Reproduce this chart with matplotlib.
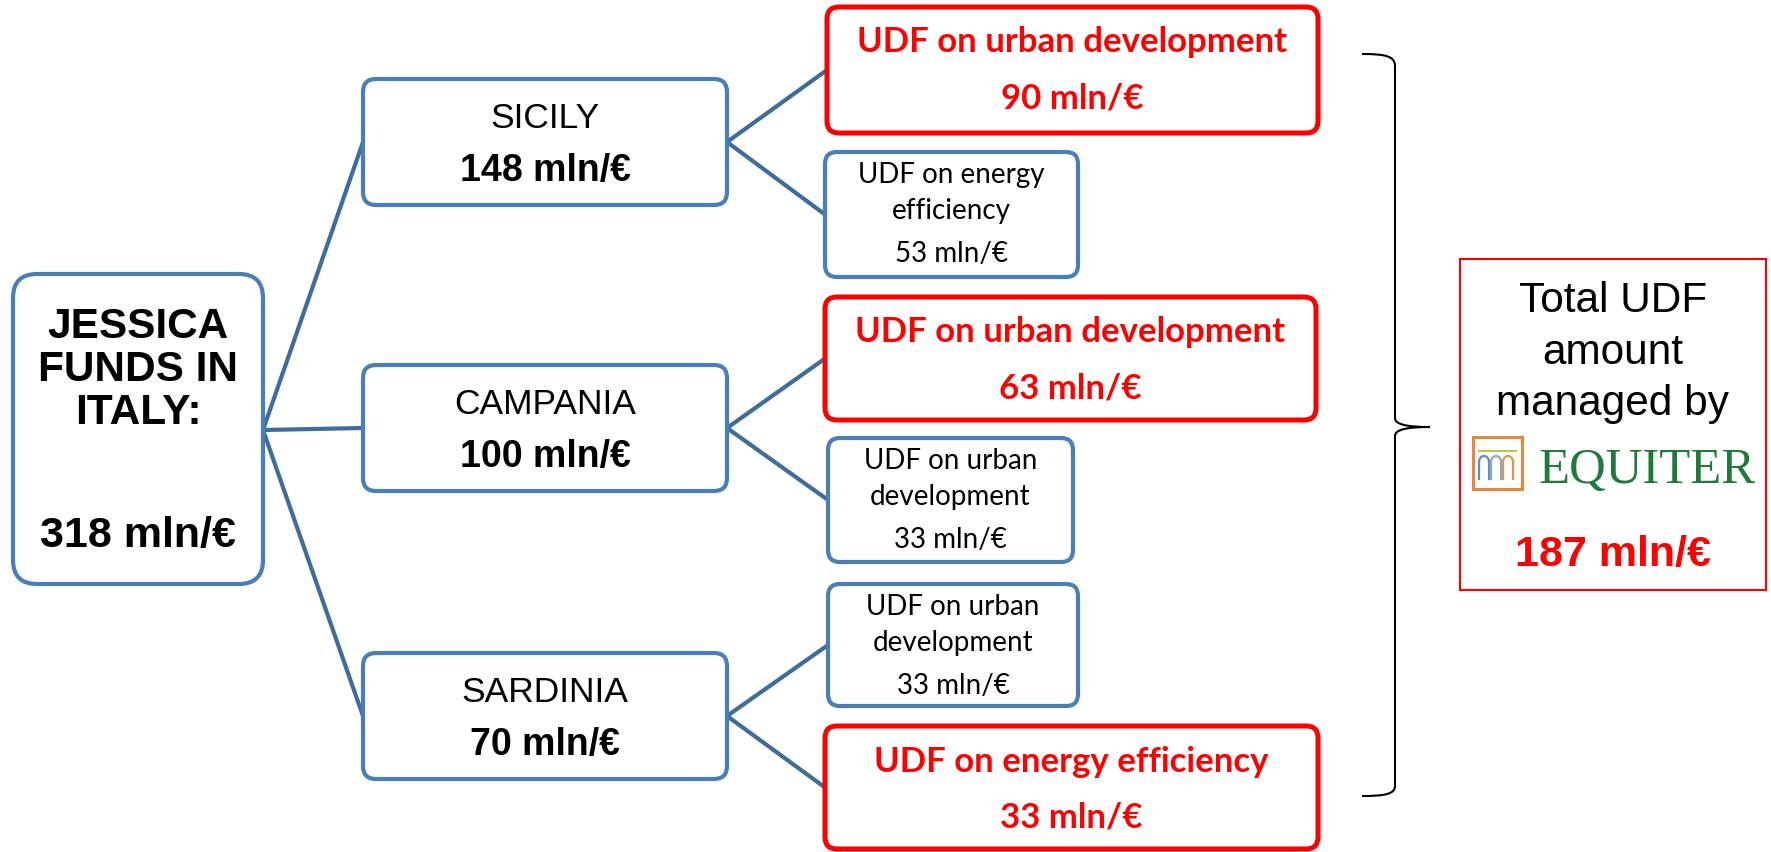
import numpy as np
import matplotlib.pyplot as plt
from matplotlib.patches import FancyBboxPatch, Rectangle, PathPatch
from matplotlib.path import Path

# data
root_title = ["JESSICA", "FUNDS IN", "ITALY:"]
root_amount = 318
regions = ["SICILY", "CAMPANIA", "SARDINIA"]
region_amounts = [148, 100, 70]
udf_labels = [["UDF on urban development"],
              ["UDF on energy", "efficiency"],
              ["UDF on urban development"],
              ["UDF on urban", "development"],
              ["UDF on urban", "development"],
              ["UDF on energy efficiency"]]
udf_amounts = [90, 53, 63, 33, 33, 33]
udf_equiter = [True, False, True, False, False, True]
udf_region = [0, 0, 1, 1, 2, 2]
total_label = ["Total UDF", "amount", "managed by"]
total_amount = 187

# layout (pixels, y downward)
W, H = 1771, 852
root_box = (13, 274, 250, 310)
region_x, region_w, region_h = 363, 364, 126
region_top = [79, 365, 653]
udf_boxes = [(827, 7, 491, 126), (825, 152, 253, 125), (825, 297, 491, 123),
             (828, 438, 245, 124), (828, 584, 250, 122), (825, 726, 493, 123)]
total_box = (1460, 259, 306, 331)

BLUE = "#4A7EBB"
LINE = "#3F6C9E"
RED = "#FF0000"
ARIAL = "Liberation Sans"
CALIBRI = "Lato"

fig = plt.figure(figsize=(W / 100, H / 100), dpi=100)
ax = fig.add_axes([0, 0, 1, 1])
ax.set_xlim(0, W)
ax.set_ylim(H, 0)
ax.axis("off")


def box(b, ec, lw, r):
    x, y, w, h = b
    ax.add_patch(FancyBboxPatch((x, y), w, h, boxstyle=f"round,pad=0,rounding_size={r}",
                                fc="white", ec=ec, lw=lw, zorder=2))


def put(x, yc, s, size, cap=None, **kw):
    # yc is the middle of the capitals
    cap = size if cap is None else cap
    ax.text(x, yc + cap * 0.5, s, fontsize=size, ha="center", va="baseline", zorder=3, **kw)


# connectors
rx, ry = root_box[0] + root_box[2], 430
for i, t in enumerate(region_top):
    cy = t + region_h / 2
    ax.plot([rx, region_x], [ry, cy], color=LINE, lw=3, zorder=1, solid_capstyle="butt")
for j, (x, y, w, h) in enumerate(udf_boxes):
    cy = region_top[udf_region[j]] + region_h / 2
    ax.plot([region_x + region_w, x], [cy, y + h / 2], color=LINE, lw=3, zorder=1)

# root
box(root_box, BLUE, 3, 24)
cx = root_box[0] + root_box[2] / 2
for k, s in enumerate(root_title):
    put(cx, 323 + 43 * k, s, 30.5, family=ARIAL, weight="bold")
put(cx, 532, f"{root_amount} mln/€", 31, cap=30, family=ARIAL, weight="bold")

# regions
for i, t in enumerate(region_top):
    box((region_x, t, region_w, region_h), BLUE, 3, 13)
    cx = region_x + region_w / 2
    put(cx, t + 36, regions[i], 25.5, family=ARIAL)
    put(cx, t + 89, f"{region_amounts[i]} mln/€", 27, cap=25, family=ARIAL, weight="bold")

# UDF boxes
for j, b in enumerate(udf_boxes):
    x, y, w, h = b
    cx = x + w / 2
    if udf_equiter[j]:
        box(b, RED, 3.6, 12)
        put(cx, y + 33, udf_labels[j][0], 25, family=CALIBRI, weight="bold", color=RED)
        put(cx, y + 89, f"{udf_amounts[j]} mln/€", 25, family=CALIBRI, weight="bold", color=RED)
    else:
        box(b, BLUE, 3, 12)
        for k, s in enumerate(udf_labels[j]):
            put(cx, y + 22 + 36 * k, s, 20, cap=18, family=CALIBRI)
        put(cx, y + 101, f"{udf_amounts[j]} mln/€", 20, cap=18, family=CALIBRI)

# brace
verts = [(1362, 54), (1385, 54), (1395, 56), (1395, 66), (1395, 418),
         (1395, 424), (1405, 427), (1430, 427),
         (1405, 427), (1395, 430), (1395, 436), (1395, 786),
         (1395, 794), (1385, 796), (1362, 796)]
codes = [Path.MOVETO, Path.CURVE4, Path.CURVE4, Path.CURVE4, Path.LINETO,
         Path.CURVE4, Path.CURVE4, Path.CURVE4,
         Path.CURVE4, Path.CURVE4, Path.CURVE4, Path.LINETO,
         Path.CURVE4, Path.CURVE4, Path.CURVE4]
ax.add_patch(PathPatch(Path(verts, codes), fc="none", ec="black", lw=1.5))

# total box
x, y, w, h = total_box
ax.add_patch(Rectangle((x, y), w, h, fc="white", ec=RED, lw=1.5))
cx = x + w / 2
for k, s in enumerate(total_label):
    put(cx, 297 + 51.5 * k, s, 30.5, family=ARIAL)
put(cx, 552, f"{total_amount} mln/€", 31, cap=28, family=ARIAL, weight="bold", color=RED)

# EQUITER logo
ax.add_patch(Rectangle((1473, 437), 49, 52, fc="none", ec="#E8873C", lw=2.2, zorder=3))
ax.plot([1479, 1516], [451, 451], color="#C9C24A", lw=1.5, zorder=3)
t = np.linspace(0, np.pi, 30)
for k, c in enumerate(["#5B8FC9", "#8FA7C4", "#E0944F"]):
    ax0 = 1484 + 12 * k
    ax.plot(ax0 + 5 * np.cos(t), 462 - 6 * np.sin(t), color=c, lw=1.6, zorder=3)
    ax.plot([ax0 - 5, ax0 - 5], [462, 479], color=c, lw=1.6, zorder=3)
    ax.plot([ax0 + 5, ax0 + 5], [462, 479], color=c, lw=1.6, zorder=3)
ax.text(1539, 483, "EQUITER", fontsize=36.5, family="Liberation Serif", color="#1F7A3A",
        ha="left", va="baseline", zorder=3)

fig.savefig("out.png", dpi=100)
